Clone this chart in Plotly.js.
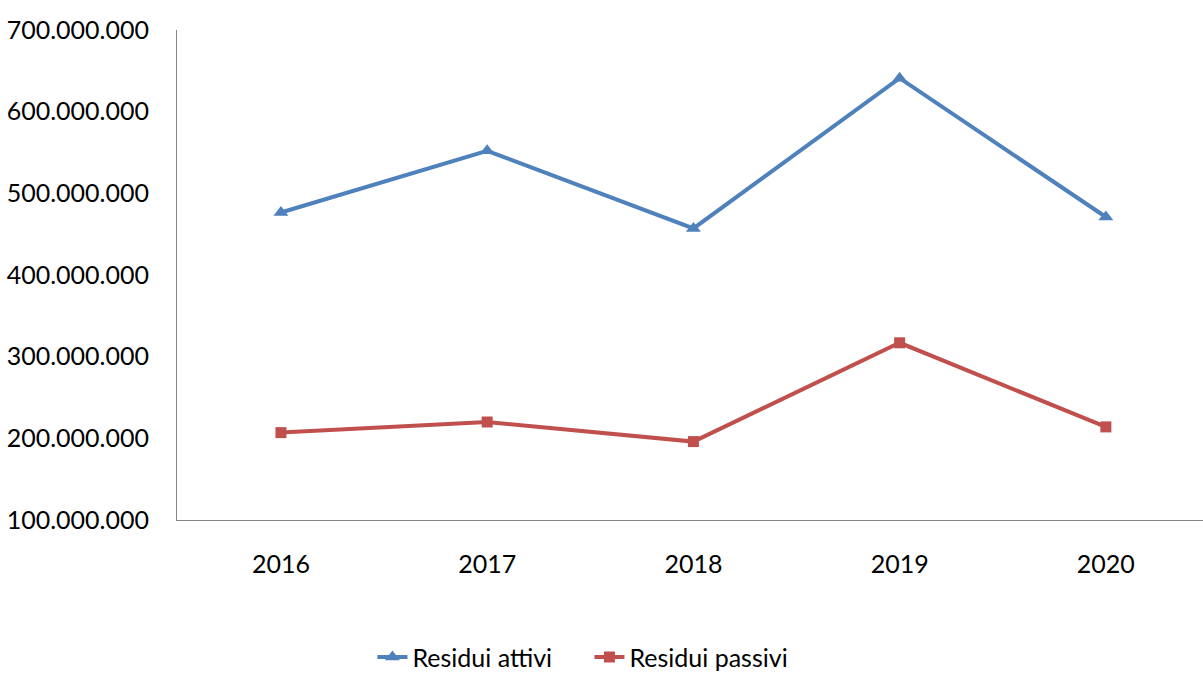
<!DOCTYPE html>
<html><head><meta charset="utf-8">
<script src="https://cdn.plot.ly/plotly-3.0.1.min.js"></script>
<style>html,body{margin:0;padding:0;background:#fff;}#chart{width:1203px;height:673px;}</style>
</head><body><div id="chart"></div>
<script>
const years = ["2016", "2017", "2018", "2019", "2020"];
const residuiAttivi = [476500000, 552000000, 457000000, 641000000, 471000000];
const residuiPassivi = [207000000, 220000000, 196000000, 317000000, 214000000];
const yTickVals = [100000000, 200000000, 300000000, 400000000, 500000000, 600000000, 700000000];
const yTickText = ["100.000.000", "200.000.000", "300.000.000", "400.000.000", "500.000.000", "600.000.000", "700.000.000"];

const fontFam = "Lato, 'Open Sans', sans-serif";
const traces = [
  {x: years, y: residuiAttivi, name: "Residui attivi", type: "scatter", mode: "lines+markers",
   line: {color: "#4F81BD", width: 4}, marker: {symbol: "triangle-up", size: 13, color: "#4F81BD"}},
  {x: years, y: residuiPassivi, name: "Residui passivi", type: "scatter", mode: "lines+markers",
   line: {color: "#C0504D", width: 4}, marker: {symbol: "square", size: 11, color: "#C0504D"}}
];
const layout = {
  width: 1203, height: 673,
  margin: {l: 177, r: 0, t: 30, b: 153, autoexpand: false},
  paper_bgcolor: "#fff", plot_bgcolor: "#fff",
  font: {family: fontFam, size: 25, color: "#000"},
  showlegend: true,
  legend: {orientation: "h", x: 0.402, xanchor: "center", y: -0.28, yanchor: "middle",
           entrywidth: 172, entrywidthmode: "pixels",
           font: {family: fontFam, size: 25, color: "#000"}, tracegroupgap: 0},
  xaxis: {type: "category", range: [-0.504, 4.471], showgrid: false, zeroline: false,
          showline: true, linecolor: "#868686", linewidth: 1, ticks: "", ticklabelstandoff: 22,
          tickfont: {family: fontFam, size: 25, color: "#000"}, fixedrange: true},
  yaxis: {range: [100000000, 700000000], tickvals: yTickVals, ticktext: yTickText,
          showgrid: false, zeroline: false, showline: true, linecolor: "#868686", linewidth: 1,
          ticks: "", ticklabelstandoff: 22, tickfont: {family: fontFam, size: 25, color: "#000"}, fixedrange: true}
};
Plotly.newPlot("chart", traces, layout, {displayModeBar: false, staticPlot: true});
</script></body></html>
